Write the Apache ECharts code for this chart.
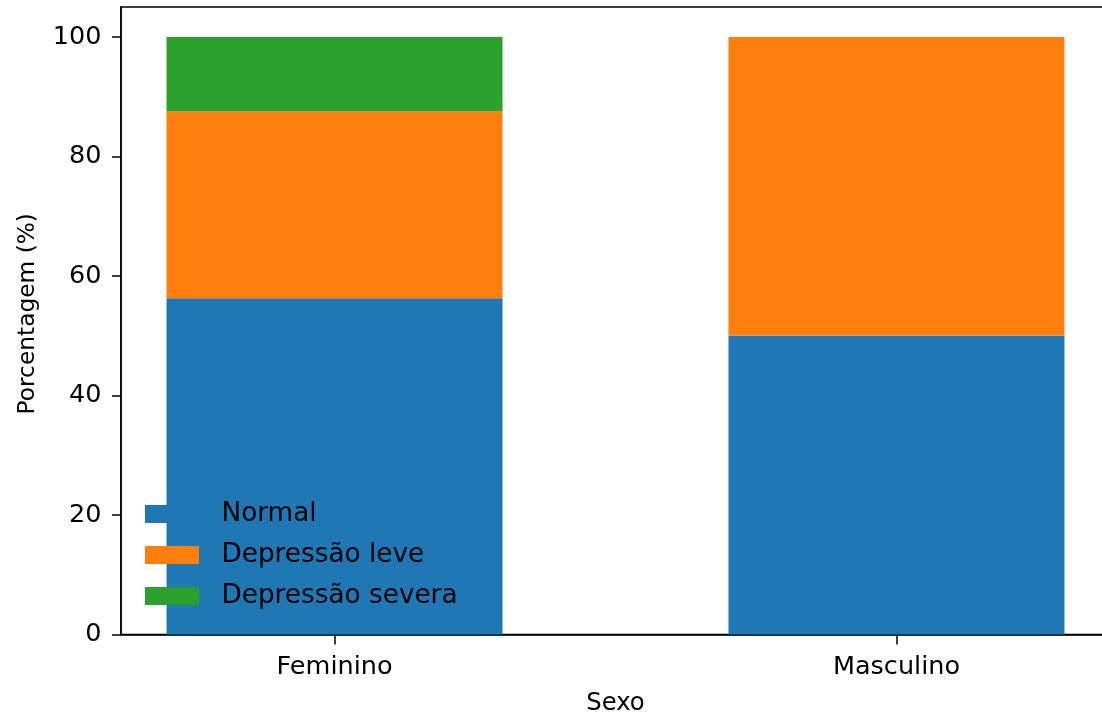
<!DOCTYPE html>
<html><head><meta charset="utf-8">
<script src="https://cdn.jsdelivr.net/npm/echarts@6/dist/echarts.min.js"></script>
<style>html,body{margin:0;padding:0;background:#fff}#c{width:1102px;height:717px}</style>
</head><body><div id="c"></div>
<script>
const categories = ['Feminino', 'Masculino'];
const seriesNames = ['Normal', 'Depressão leve', 'Depressão severa'];
const normal = [56.25, 50];
const leve = [31.25, 50];
const severa = [12.5, 0];
const yTicks = [0, 20, 40, 60, 80, 100];
const colors = ['#1f77b4', '#ff7f0e', '#2ca02c'];
const font = 'DejaVu Sans';
const fs = 25.5;

const chart = echarts.init(document.getElementById('c'), null, {renderer: 'canvas'});
const mk = (name, vals, color) => ({
  name, type: 'bar', stack: 'total', barWidth: 336,
  itemStyle: {color}, emphasis: {disabled: true},
  encode: {x: 1, y: 0},
  data: vals.map((v, i) => [v, i])
});
chart.setOption({
  animation: false,
  textStyle: {fontFamily: font},
  grid: {left: 121, top: 7, right: -8, bottom: 82.5, show: true, borderColor: '#000', borderWidth: 1.5, containLabel: false, outerBoundsMode: 'none'},
  xAxis: {
    type: 'value', min: -0.38, max: 1.38,
    name: 'Sexo', nameLocation: 'middle', nameGap: 57.5,
    nameTextStyle: {fontFamily: font, fontSize: 24.3, color: '#000'},
    axisLine: {show: true, onZero: false, lineStyle: {color: '#000', width: 1.5}},
    axisTick: {show: true, length: 10, lineStyle: {color: '#000', width: 1.5}, customValues: [0, 1]},
    axisLabel: {customValues: [0, 1], formatter: v => categories[Math.round(v)], fontFamily: font, fontSize: fs, color: '#000', margin: 20},
    splitLine: {show: false}
  },
  yAxis: {
    type: 'value', min: 0, max: 105,
    name: 'Porcentagem (%)', nameLocation: 'middle', nameGap: 82,
    nameTextStyle: {fontFamily: font, fontSize: 23.3, color: '#000', padding: [0, 0, 0, 14]},
    axisLine: {show: true, onZero: false, lineStyle: {color: '#000', width: 1.5}},
    axisTick: {show: true, length: 9, lineStyle: {color: '#000', width: 1.5}, customValues: yTicks},
    axisLabel: {customValues: yTicks, fontFamily: font, fontSize: fs, color: '#000', margin: 19.5},
    splitLine: {show: false}
  },
  legend: {
    orient: 'vertical', left: 145, top: 501, padding: 0,
    itemWidth: 54, itemHeight: 18, itemGap: 15, icon: 'rect',
    textStyle: {fontFamily: font, fontSize: 26.3, color: '#000', padding: [0, 0, 0, 17.5]},
    data: seriesNames
  },
  series: [mk(seriesNames[0], normal, colors[0]), mk(seriesNames[1], leve, colors[1]), mk(seriesNames[2], severa, colors[2])]
});
</script></body></html>
